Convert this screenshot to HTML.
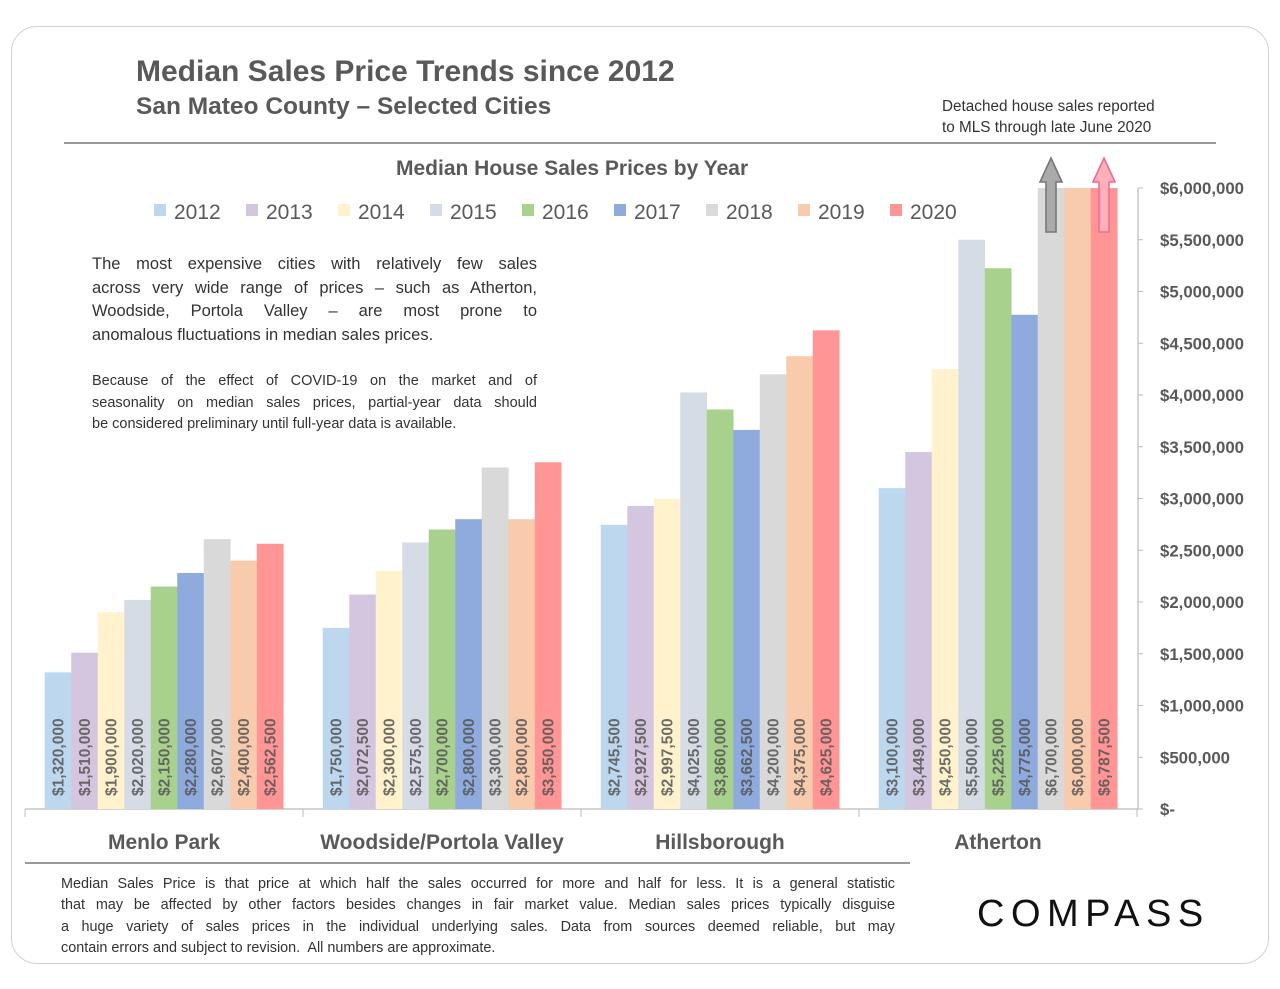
<!DOCTYPE html>
<html><head><meta charset="utf-8"><style>
body{margin:0;background:#fff;font-family:"Liberation Sans",sans-serif;}
#frame{position:absolute;left:11px;top:26px;width:1256px;height:936px;border:1.5px solid #d0d0d0;border-radius:26px;}
.t{position:absolute;color:#555;white-space:nowrap;}
.j div{text-align:justify;text-align-last:justify;white-space:nowrap;}
.j div.l{text-align-last:left;}
</style></head><body>
<div id="frame"></div>
<div class="t" style="left:136px;top:55px;font-size:30px;font-weight:bold;color:#595959">Median Sales Price Trends since 2012</div>
<div class="t" style="left:136px;top:93px;font-size:24.5px;font-weight:bold;color:#595959">San Mateo County – Selected Cities</div>
<div class="t" style="left:942px;top:96px;font-size:15.3px;line-height:21px;color:#333">Detached house sales reported<br>to MLS through late June 2020</div>
<div style="position:absolute;left:64px;top:142px;width:1152px;height:2px;background:#999"></div>
<div class="t" style="left:396px;top:157px;font-size:21px;font-weight:bold;color:#595959">Median House Sales Prices by Year</div>
<div class="t j" style="left:92px;top:253px;width:445px;font-size:16.5px;line-height:23.5px;color:#333">
<div>The most expensive cities with relatively few sales</div>
<div>across very wide range of prices – such as Atherton,</div>
<div>Woodside, Portola Valley – are most prone to</div>
<div class="l">anomalous fluctuations in median sales prices.</div></div>
<div class="t j" style="left:92px;top:371px;width:445px;font-size:14.5px;line-height:21.5px;color:#333">
<div>Because of the effect of COVID-19 on the market and of</div>
<div>seasonality on median sales prices, partial-year data should</div>
<div class="l">be considered preliminary until full-year data is available.</div></div>
<div style="position:absolute;left:25px;top:862px;width:885px;height:2px;background:#999"></div>
<div class="t j" style="left:61px;top:874px;width:834px;font-size:14.4px;line-height:21.3px;color:#333">
<div>Median Sales Price is that price at which half the sales occurred for more and half for less. It is a general statistic</div>
<div>that may be affected by other factors besides changes in fair market value. Median sales prices typically disguise</div>
<div>a huge variety of sales prices in the individual underlying sales. Data from sources deemed reliable, but may</div>
<div class="l">contain errors and subject to revision.&nbsp; All numbers are approximate.</div></div>
<div class="t" style="left:977px;top:893px;font-size:38px;letter-spacing:6.5px;color:#111">COMPASS</div>
<svg id="chart" width="1280" height="989" style="position:absolute;left:0;top:0"></svg>
<script>
const cities=["Menlo Park","Woodside/Portola Valley","Hillsborough","Atherton"];
const years=["2012","2013","2014","2015","2016","2017","2018","2019","2020"];
const colors=["#bdd7ee","#d5c6df","#fff2cc","#d6dce5","#a9d18e","#8faadc","#d9d9d9","#f8cbad","#ff9595"];
const v2012=[1320000,1750000,2745500,3100000];
const v2013=[1510000,2072500,2927500,3449000];
const v2014=[1900000,2300000,2997500,4250000];
const v2015=[2020000,2575000,4025000,5500000];
const v2016=[2150000,2700000,3860000,5225000];
const v2017=[2280000,2800000,3662500,4775000];
const v2018=[2607000,3300000,4200000,6700000];
const v2019=[2400000,2800000,4375000,6000000];
const v2020=[2562500,3350000,4625000,6787500];
const series=[v2012,v2013,v2014,v2015,v2016,v2017,v2018,v2019,v2020];
const ticks=[0,500000,1000000,1500000,2000000,2500000,3000000,3500000,4000000,4500000,5000000,5500000,6000000];
const tickLabels=["$-","$500,000","$1,000,000","$1,500,000","$2,000,000","$2,500,000","$3,000,000","$3,500,000","$4,000,000","$4,500,000","$5,000,000","$5,500,000","$6,000,000"];
const yMax=6000000;
const svg=document.getElementById('chart');const NS="http://www.w3.org/2000/svg";
const X0=25,X1=1137,Y0=809,YT=188,gw=(X1-X0)/cities.length,bw=26.5,pad=(gw-bw*9)/2;
const y=v=>Y0-(Math.min(v,yMax)/yMax)*(Y0-YT);
const fmt=v=>"$"+v.toLocaleString("en-US");
function el(t,a){const e=document.createElementNS(NS,t);for(const k in a)e.setAttribute(k,a[k]);svg.appendChild(e);return e;}
let ax=el('line',{x1:X1+1,x2:X1+1,y1:YT,y2:Y0,stroke:'#bbb','stroke-width':1.2});


let xa=el('line',{x1:X0,x2:X1+1,y1:Y0,y2:Y0,stroke:'#bbb','stroke-width':1.2});


ticks.forEach((t,i)=>{
 el('line',{x1:X1+1,x2:X1+6,y1:y(t),y2:y(t),stroke:'#bbb'});
 const tx=el('text',{x:1160,y:y(t)+6,'font-size':16.8,fill:'#595959','font-weight':'bold'});
 tx.textContent=tickLabels[i];
 
 
});
for(let g=0;g<=cities.length;g++){const gx=X0+g*gw;el('line',{x1:gx,x2:gx,y1:Y0,y2:Y0+8,stroke:'#bbb'});}
cities.forEach((c,g)=>{
 const ct=el('text',{x:X0+g*gw+gw/2,y:849,'text-anchor':'middle','font-size':21,'font-weight':'bold',fill:'#595959'});
 ct.textContent=c;
 
 
 series.forEach((s,i)=>{
  const bx=X0+g*gw+pad+i*bw,by=y(s[g]);
  const r=el('rect',{x:bx,y:by,width:bw+0.3,height:Y0-by,fill:colors[i]});
  
  
  const lt=el('text',{transform:`translate(${bx+bw/2+5.5},796) rotate(-90)`,'font-size':15.5,'font-weight':'bold',fill:'#555','fill-opacity':0.85});
  lt.textContent=fmt(s[g]);
  
  
  if(s[g]>yMax){
   const cx=bx+bw/2;
   const p=el('path',{d:`M${cx-5},${232} V${182} H${cx-11} L${cx},${158} L${cx+11},${182} H${cx+5} V${232} Z`,fill:i==6?'#aaa':'#ffb0bb',stroke:i==6?'#777':'#f06c8a','stroke-width':1.6});
   
   
  }
 });
});
let lx=154;
years.forEach((yr,i)=>{
 const r=el('rect',{x:lx,y:204,width:12,height:12,fill:colors[i]});
 
 
 const t=el('text',{x:lx+20,y:219,'font-size':21,fill:'#595959'});
 t.textContent=yr;
 
 
 lx+=92;
});
</script>
</body></html>
